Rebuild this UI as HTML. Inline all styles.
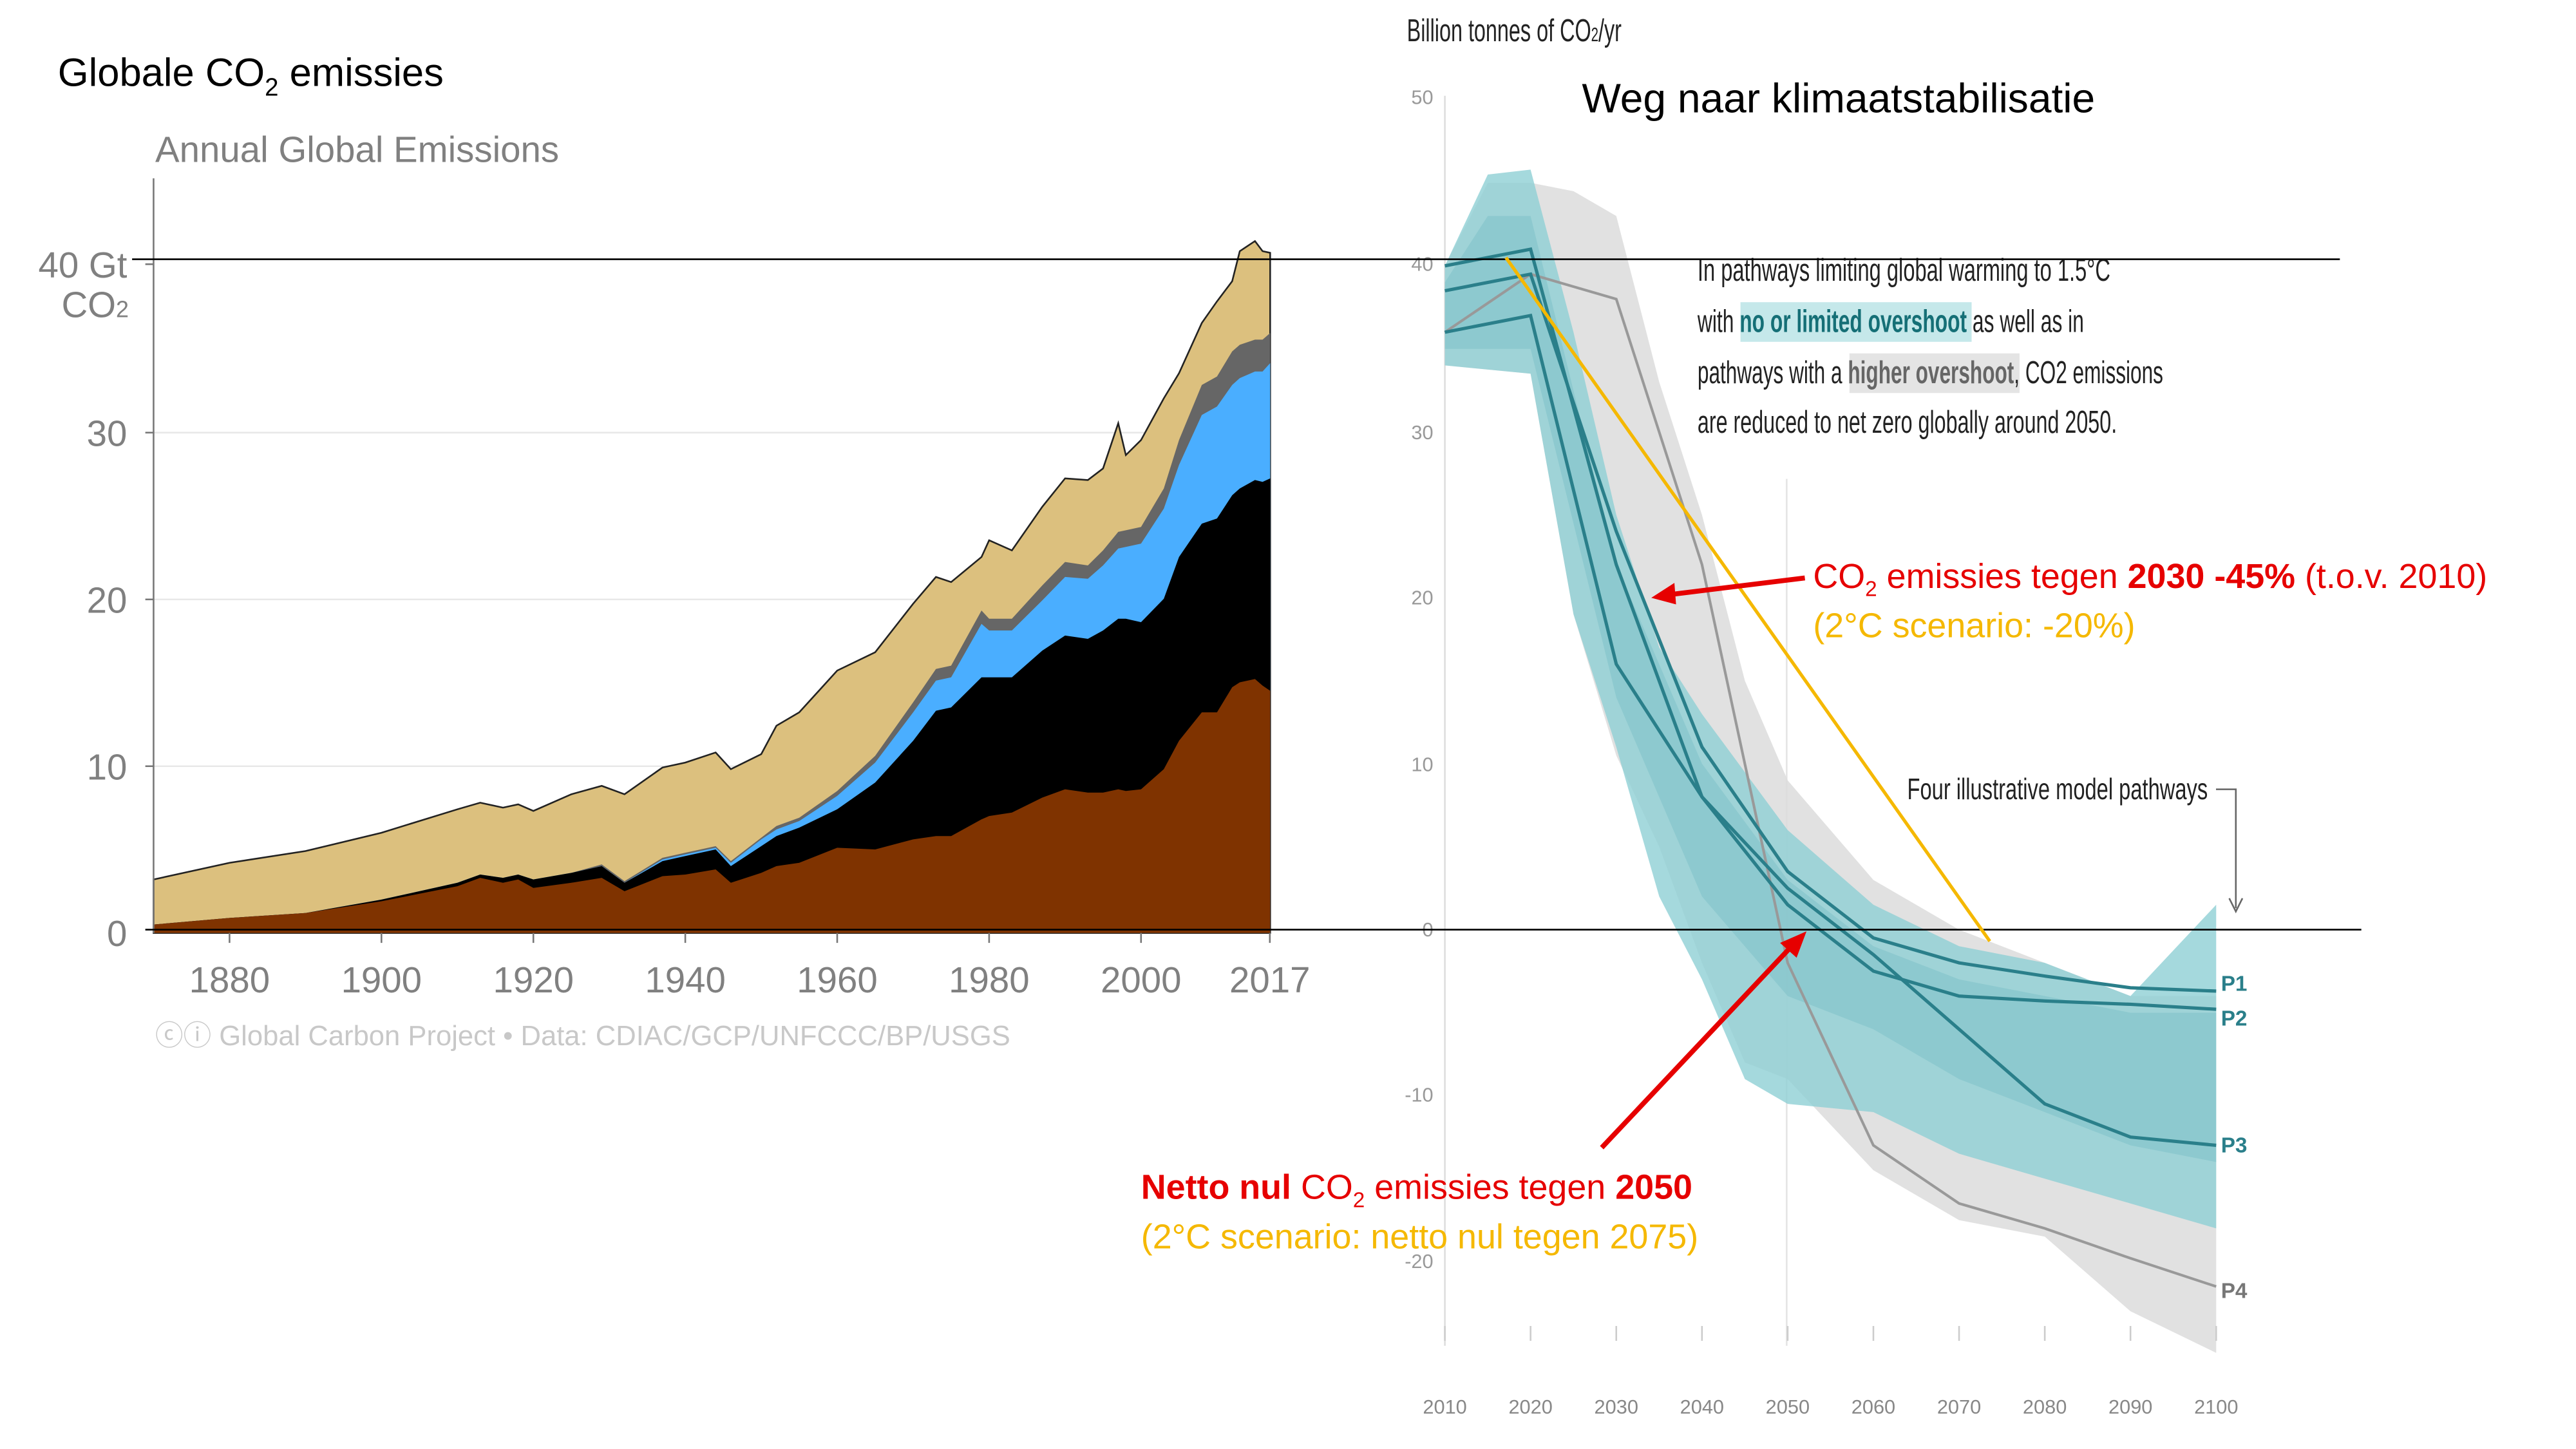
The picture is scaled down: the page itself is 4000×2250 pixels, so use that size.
<!DOCTYPE html>
<html><head><meta charset="utf-8"><style>
html,body{margin:0;padding:0;background:#fff;}
svg{display:block;}
</style></head><body>
<svg id="s" width="4000" height="2250" viewBox="0 0 1560 877.5" xmlns="http://www.w3.org/2000/svg" font-family="Liberation Sans, sans-serif">
<rect width="1560" height="877.5" fill="#fff"/>
<text x="35" y="52" font-size="24" fill="#000">Globale CO<tspan font-size="15" dy="6">2</tspan><tspan dy="-6"> emissies</tspan></text>
<text x="94" y="98" font-size="22" fill="#808080">Annual Global Emissions</text>
<g stroke="#e8e8e8" stroke-width="1">
<line x1="93" y1="262" x2="768" y2="262"/><line x1="93" y1="363" x2="768" y2="363"/><line x1="93" y1="464" x2="768" y2="464"/>
</g>
<g id="left"></g>
<line x1="93" y1="108" x2="93" y2="565" stroke="#777" stroke-width="1"/>
<g fill="#808080" font-size="22" text-anchor="end">
<text x="77" y="168">40 Gt</text><text x="78" y="192">CO<tspan font-size="14">2</tspan></text>
<text x="77" y="270">30</text><text x="77" y="371">20</text><text x="77" y="472">10</text><text x="77" y="573">0</text>
</g>
<g stroke="#777" stroke-width="1">
<line x1="88" y1="160" x2="93" y2="160"/><line x1="88" y1="262" x2="93" y2="262"/><line x1="88" y1="363" x2="93" y2="363"/><line x1="88" y1="464" x2="93" y2="464"/>
<line x1="139" y1="565" x2="139" y2="571"/><line x1="231" y1="565" x2="231" y2="571"/><line x1="323" y1="565" x2="323" y2="571"/><line x1="415" y1="565" x2="415" y2="571"/><line x1="507" y1="565" x2="507" y2="571"/><line x1="599" y1="565" x2="599" y2="571"/><line x1="691" y1="565" x2="691" y2="571"/><line x1="769" y1="565" x2="769" y2="571"/>
</g>
<g fill="#808080" font-size="22" text-anchor="middle">
<text x="139" y="601">1880</text><text x="231" y="601">1900</text><text x="323" y="601">1920</text><text x="415" y="601">1940</text><text x="507" y="601">1960</text><text x="599" y="601">1980</text><text x="691" y="601">2000</text><text x="769" y="601">2017</text>
</g>
<text x="94" y="633" font-size="17" fill="#c8c8c8">ⓒⓘ Global Carbon Project  •  Data: CDIAC/GCP/UNFCCC/BP/USGS</text>

<text x="852" y="25" font-size="19" fill="#222" textLength="130" lengthAdjust="spacingAndGlyphs">Billion tonnes of CO<tspan font-size="12">2</tspan>/yr</text>
<text x="958" y="68" font-size="25" fill="#000">Weg naar klimaatstabilisatie</text>
<line x1="875" y1="58" x2="875" y2="815" stroke="#ddd"/>
<line x1="1082" y1="290" x2="1082" y2="815" stroke="#e4e4e4"/>
<g fill="#999" font-size="12" text-anchor="end">
<text x="868" y="63">50</text><text x="868" y="164">40</text><text x="868" y="266">30</text><text x="868" y="366">20</text><text x="868" y="467">10</text><text x="868" y="567">0</text><text x="868" y="667">-10</text><text x="868" y="768">-20</text>
</g>
<g id="right"></g>
<g fill="#888" font-size="12" text-anchor="middle" id="rx"></g>
<text x="1028" y="170" font-size="19" fill="#222" textLength="250" lengthAdjust="spacingAndGlyphs">In pathways limiting global warming to 1.5°C</text>
<rect x="1054" y="183" width="140" height="24" fill="#c5e8ea"/>
<rect x="1120" y="214" width="103" height="24" fill="#e4e4e4"/>
<text x="1028" y="201" font-size="19" fill="#222" textLength="234" lengthAdjust="spacingAndGlyphs">with <tspan fill="#156f76" font-weight="bold">no or limited overshoot</tspan> as well as in</text>
<text x="1028" y="232" font-size="19" fill="#222" textLength="282" lengthAdjust="spacingAndGlyphs">pathways with a <tspan fill="#666" font-weight="bold">higher overshoot</tspan>, CO2 emissions</text>
<text x="1028" y="262" font-size="19" fill="#222" textLength="254" lengthAdjust="spacingAndGlyphs">are reduced to net zero globally around 2050.</text>
<text x="1155" y="484" font-size="18" fill="#222" textLength="182" lengthAdjust="spacingAndGlyphs">Four illustrative model pathways</text>
<polyline points="1342,478 1354,478 1354,550" fill="none" stroke="#666"/>
<polyline points="1350,544 1354,552 1358,544" fill="none" stroke="#666"/>
<g fill="#2a7f8a" font-size="13" font-weight="bold">
<text x="1345" y="600">P1</text><text x="1345" y="621">P2</text><text x="1345" y="698">P3</text></g>
<text x="1345" y="786" font-size="13" font-weight="bold" fill="#777">P4</text>

<line x1="80" y1="157" x2="1417" y2="157" stroke="#000" stroke-width="1"/>
<line x1="88" y1="563" x2="1430" y2="563" stroke="#000" stroke-width="1"/>

<line x1="912" y1="156" x2="1205" y2="570" stroke="#f5b800" stroke-width="2"/>
<line x1="1093" y1="350" x2="1012" y2="360" stroke="#e60000" stroke-width="3"/>
<polygon points="1000,362 1014,353 1015,366" fill="#e60000"/>
<line x1="970" y1="695" x2="1085" y2="573" stroke="#e60000" stroke-width="3"/>
<polygon points="1094,564 1078,571 1088,580" fill="#e60000"/>
<text x="1098" y="356" font-size="21" fill="#e60000">CO<tspan font-size="13" dy="5">2</tspan><tspan dy="-5"> emissies tegen </tspan><tspan font-weight="bold">2030 -45%</tspan> (t.o.v. 2010)</text>
<text x="1098" y="386" font-size="21" fill="#f5b800">(2°C scenario: -20%)</text>
<text x="691" y="726" font-size="21" fill="#e60000"><tspan font-weight="bold">Netto nul</tspan> CO<tspan font-size="13" dy="5">2</tspan><tspan dy="-5"> emissies tegen </tspan><tspan font-weight="bold">2050</tspan></text>
<text x="691" y="756" font-size="21" fill="#f5b800">(2°C scenario: netto nul tegen 2075)</text>
</svg>
<script>
(function(){
var NS="http://www.w3.org/2000/svg";
function el(p,t,a){var e=document.createElementNS(NS,t);for(var k in a)e.setAttribute(k,a[k]);p.appendChild(e);return e;}
var yrs=[1870,1880,1890,1900,1910,1913,1916,1918,1920,1925,1929,1932,1937,1940,1944,1946,1950,1952,1955,1960,1965,1970,1973,1975,1979,1980,1983,1987,1990,1993,1995,1997,1998,2000,2003,2005,2008,2010,2012,2013,2015,2016,2017];
var d=[
[0.5,0.5,0.5,0.5,3.2],[0.9,0.9,0.9,0.9,4.2],[1.2,1.2,1.2,1.2,4.9],[1.9,2.0,2.0,2.0,6.0],[2.8,3.0,3.0,3.0,7.4],[3.3,3.5,3.5,3.5,7.8],[3.0,3.3,3.3,3.3,7.5],[3.2,3.5,3.5,3.5,7.7],[2.7,3.2,3.2,3.2,7.3],[3.0,3.6,3.6,3.6,8.3],[3.3,4.0,4.0,4.1,8.8],[2.5,3.0,3.0,3.1,8.3],[3.4,4.3,4.4,4.5,9.9],[3.5,4.6,4.7,4.8,10.2],[3.8,5.0,5.1,5.2,10.8],[3.0,4.0,4.2,4.3,9.8],[3.6,5.2,5.6,5.7,10.7],[4.0,5.8,6.2,6.4,12.4],[4.2,6.3,6.7,6.9,13.2],[5.1,7.4,8.2,8.5,15.7],[5.0,9.0,10.2,10.6,16.8],[5.6,11.5,13.2,13.8,19.7],[5.8,13.3,15.1,15.8,21.3],[5.8,13.5,15.3,16.0,21.0],[6.8,15.3,18.5,19.3,22.5],[7.0,15.3,18.1,18.8,23.5],[7.2,15.3,18.1,18.8,22.9],[8.1,16.9,19.9,20.8,25.5],[8.6,17.8,21.3,22.2,27.2],[8.4,17.6,21.2,22.0,27.1],[8.4,18.1,22.0,22.9,27.8],[8.6,18.8,23.0,24.0,30.5],[8.5,18.8,23.1,24.1,28.6],[8.6,18.6,23.3,24.3,29.5],[9.8,20.0,25.4,26.6,32.0],[11.5,22.5,28.0,29.5,33.5],[13.2,24.5,31.0,32.8,36.5],[13.2,24.8,31.5,33.3,37.8],[14.7,26.2,32.8,34.8,39.0],[15.0,26.6,33.2,35.2,40.8],[15.2,27.1,33.6,35.5,41.4],[14.8,27.0,33.6,35.5,40.8],[14.5,27.2,34.1,35.9,40.7]];
function X(y){return 93+(y-1870)*4.6;} function Y(v){return 565-v*10.12;}
var L=document.getElementById("left");
var cols=["#7f3300","#000000","#4aaeff","#666666","#dcc07e"];
for(var k=4;k>=0;k--){
 var p="M"+X(1870)+","+Y(0);
 for(var i=0;i<yrs.length;i++)p+=" L"+X(yrs[i]).toFixed(1)+","+Y(d[i][k]).toFixed(1);
 p+=" L"+X(2017)+","+Y(0)+"Z";
 el(L,"path",{d:p,fill:cols[k],stroke:k==4?"#222":"none","stroke-width":1});
}
function RX(y){return 875+(y-2010)*5.19;} function RY(v){return 563-v*10.05;}
function poly(arr){return arr.map(function(a){return RX(a[0]).toFixed(1)+","+RY(a[1]).toFixed(1);}).join(" ");}
var R=document.getElementById("right");
var gU=[[2010,40],[2015,45],[2020,45],[2025,44.5],[2030,43],[2035,33],[2040,25],[2045,15],[2050,9],[2060,3],[2070,0],[2080,-2],[2090,-4],[2100,-4]];
var gL=[[2100,-25.5],[2090,-23],[2080,-18.5],[2070,-17.5],[2060,-14.5],[2050,-9],[2045,-8],[2040,-2],[2035,5],[2030,10.5],[2025,19],[2020,33.5],[2010,34]];
el(R,"polygon",{points:poly(gU.concat(gL)),fill:"#dcdcdc",opacity:0.85});
var tU=[[2010,40],[2015,45.5],[2020,45.8],[2025,36],[2030,25],[2035,17],[2040,13],[2050,6],[2060,1.5],[2070,-1],[2080,-2],[2090,-4],[2100,1.5]];
var tL=[[2100,-18],[2090,-16.5],[2080,-15],[2070,-13.5],[2060,-11],[2050,-10.5],[2045,-9],[2040,-3],[2035,2],[2030,11],[2025,19],[2020,33.5],[2010,34]];
el(R,"polygon",{points:poly(tU.concat(tL)),fill:"#8fcfd5",opacity:0.8});
var iU=[[2010,39],[2015,43],[2020,43],[2030,22],[2040,10],[2050,3],[2060,-1],[2070,-3],[2080,-4],[2090,-5],[2100,-5]];
var iL=[[2100,-14],[2090,-13],[2080,-11],[2070,-9],[2060,-6],[2050,-4],[2040,2],[2030,14],[2020,35],[2010,35]];
el(R,"polygon",{points:poly(iU.concat(iL)),fill:"#6cb8bf",opacity:0.35});
var P4=[[2010,36],[2020,39.5],[2030,38],[2040,22],[2050,-2],[2060,-13],[2070,-16.5],[2080,-18],[2090,-19.8],[2100,-21.5]];
el(R,"polyline",{points:poly(P4),fill:"none",stroke:"#999","stroke-width":1.6});
var ser=[
[[2010,38.5],[2020,39.5],[2030,24],[2040,11],[2050,3.5],[2060,-0.5],[2070,-2],[2080,-2.8],[2090,-3.5],[2100,-3.7]],
[[2010,40],[2020,41],[2030,22],[2040,8],[2050,1.5],[2060,-2.5],[2070,-4],[2080,-4.3],[2090,-4.5],[2100,-4.8]],
[[2010,36],[2020,37],[2030,16],[2040,8],[2050,2.5],[2060,-1.5],[2070,-6],[2080,-10.5],[2090,-12.5],[2100,-13]]];
ser.forEach(function(s){el(R,"polyline",{points:poly(s),fill:"none",stroke:"#2a7f8a","stroke-width":2});});
var RXg=document.getElementById("rx");
for(var y=2010;y<=2100;y+=10){el(RXg,"line",{x1:RX(y),y1:803,x2:RX(y),y2:812,stroke:"#ccc"});var t=el(RXg,"text",{x:RX(y),y:856});t.textContent=y;}
})();
</script>
</body></html>
